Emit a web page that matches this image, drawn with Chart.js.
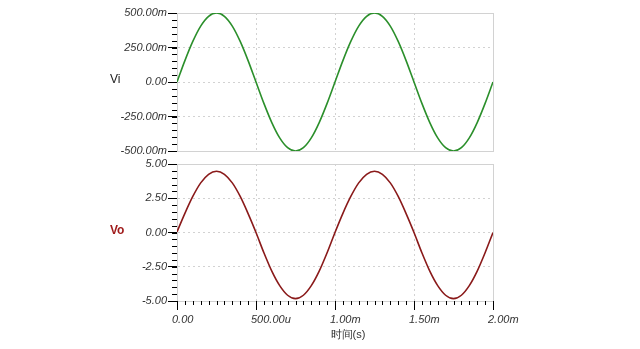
<!DOCTYPE html>
<html>
<head>
<meta charset="utf-8">
<script src="https://cdn.jsdelivr.net/npm/chart.js@4.4.1/dist/chart.umd.min.js"></script>
<style>
  html, body { margin: 0; padding: 0; background: #fff; }
  #wrap { position: relative; width: 640px; height: 349px; }
  canvas { position: absolute; left: 0; top: 0; }
</style>
</head>
<body>
<div id="wrap">
  <canvas id="grafVi" width="640" height="349"></canvas>
  <canvas id="grafVo" width="640" height="349"></canvas>
</div>
<script>
// tiempo en ms
const tiempo = [0, 0.05, 0.1, 0.15, 0.2, 0.25, 0.3, 0.35, 0.4, 0.45, 0.5,
  0.55, 0.6, 0.65, 0.7, 0.75, 0.8, 0.85, 0.9, 0.95, 1.0,
  1.05, 1.1, 1.15, 1.2, 1.25, 1.3, 1.35, 1.4, 1.45, 1.5,
  1.55, 1.6, 1.65, 1.7, 1.75, 1.8, 1.85, 1.9, 1.95, 2.0];

// Vi (V)
const vi = [0, 0.155, 0.294, 0.405, 0.476, 0.5, 0.476, 0.405, 0.294, 0.155, 0,
  -0.155, -0.294, -0.405, -0.476, -0.5, -0.476, -0.405, -0.294, -0.155, 0,
  0.155, 0.294, 0.405, 0.476, 0.5, 0.476, 0.405, 0.294, 0.155, 0,
  -0.155, -0.294, -0.405, -0.476, -0.5, -0.476, -0.405, -0.294, -0.155, 0];

// Vo (V)
const vo = [0.05, 1.4, 2.63, 3.62, 4.25, 4.47, 4.25, 3.62, 2.63, 1.38, 0,
  -1.48, -2.82, -3.88, -4.58, -4.83, -4.58, -3.88, -2.82, -1.48, 0,
  1.4, 2.63, 3.62, 4.25, 4.47, 4.25, 3.62, 2.63, 1.38, 0,
  -1.48, -2.82, -3.88, -4.58, -4.83, -4.58, -3.88, -2.82, -1.48, 0];

const viTicks = [-0.5, -0.25, 0, 0.25, 0.5];
const viLabels = ['-500.00m', '-250.00m', '0.00', '250.00m', '500.00m'];
const voTicks = [-5, -2.5, 0, 2.5, 5];
const voLabels = ['-5.00', '-2.50', '0.00', '2.50', '5.00'];
const xTicks = [0, 0.5, 1, 1.5, 2];
const xLabels = ['0.00', '500.00u', '1.00m', '1.50m', '2.00m'];

const fuente = "'Liberation Sans', Arial, sans-serif";
const gris = '#d2d2d2';

// marco gris, ticks menores y nombre de la serie
const extras = {
  id: 'extras',
  beforeDatasetsDraw(chart) {
    const a = chart.chartArea, c = chart.ctx;
    c.save();
    c.strokeStyle = gris;
    c.lineWidth = 1;
    c.strokeRect(Math.round(a.left) + 0.5, Math.round(a.top) + 0.5,
      Math.round(a.right - a.left), Math.round(a.bottom - a.top));
    c.restore();
  },
  afterDraw(chart, args, o) {
    const c = chart.ctx, a = chart.chartArea;
    c.save();
    c.strokeStyle = '#000';
    c.lineWidth = 1;
    c.beginPath();
    const y = chart.scales.y;
    for (let v = y.min; v <= y.max + 1e-9; v += o.yMinor) {
      const p = Math.round(y.getPixelForValue(v)) + 0.5;
      c.moveTo(a.left - 5, p);
      c.lineTo(a.left, p);
    }
    if (o.xMinor) {
      const x = chart.scales.x;
      for (let v = x.min; v <= x.max + 1e-9; v += o.xMinor) {
        const p = Math.round(x.getPixelForValue(v)) + 0.5;
        c.moveTo(p, a.bottom);
        c.lineTo(p, a.bottom + 4);
      }
    }
    c.stroke();
    c.textBaseline = 'middle';
    c.fillStyle = o.color;
    c.font = o.font;
    c.fillText(o.label, 110, (a.top + a.bottom) / 2 - 2);
    if (o.titulo) {
      c.fillStyle = '#333';
      c.textAlign = 'center';
      c.font = '11px ' + fuente;
      c.fillText(o.titulo, (a.left + a.right) / 2 + 13, 335);
    }
    c.restore();
  }
};

function ejeY(ticks, labels, min, max) {
  return {
    type: 'linear', min: min, max: max,
    afterBuildTicks: s => { s.ticks = ticks.map(v => ({ value: v })); },
    afterFit: s => { s.width = 177; },
    ticks: {
      callback: (v, i) => labels[i],
      font: { family: fuente, size: 11, style: 'italic' },
      color: '#333', padding: 1
    },
    grid: { color: gris, tickColor: '#000', tickLength: 9 },
    border: { color: '#000', width: 1, dash: [2, 3] }
  };
}

function ejeX(conTexto) {
  return {
    type: 'linear', min: 0, max: 2,
    afterBuildTicks: s => { s.ticks = xTicks.map(v => ({ value: v })); },
    afterFit: s => { s.height = conTexto ? 48 : 0; },
    ticks: {
      display: conTexto,
      callback: (v, i) => xLabels[i],
      font: { family: fuente, size: 11, style: 'italic' },
      color: '#333', padding: 3, align: 'start', labelOffset: -5,
      maxRotation: 0, autoSkip: false
    },
    grid: { color: gris, tickColor: '#000', tickLength: 9, drawTicks: conTexto },
    border: { color: conTexto ? '#000' : gris, width: 1, dash: [2, 3] }
  };
}

new Chart(document.getElementById('grafVi'), {
  type: 'line',
  data: {
    labels: tiempo,
    datasets: [{
      data: tiempo.map((t, i) => ({ x: t, y: vi[i] })),
      borderColor: '#2b8f2b', borderWidth: 1.6,
      pointRadius: 0, tension: 0.4, cubicInterpolationMode: 'monotone'
    }]
  },
  options: {
    responsive: false, animation: false,
    layout: { padding: { top: 13, right: 147, bottom: 198, left: 0 } },
    plugins: {
      legend: { display: false }, tooltip: { enabled: false },
      extras: { yMinor: 0.05, label: 'Vi', color: '#222', font: '12px ' + fuente }
    },
    scales: { x: ejeX(false), y: ejeY(viTicks, viLabels, -0.5, 0.5) }
  },
  plugins: [extras]
});

new Chart(document.getElementById('grafVo'), {
  type: 'line',
  data: {
    labels: tiempo,
    datasets: [{
      data: tiempo.map((t, i) => ({ x: t, y: vo[i] })),
      borderColor: '#8a1a1a', borderWidth: 1.6,
      pointRadius: 0, tension: 0.4, cubicInterpolationMode: 'monotone'
    }]
  },
  options: {
    responsive: false, animation: false,
    layout: { padding: { top: 164, right: 147, bottom: 0, left: 0 } },
    plugins: {
      legend: { display: false }, tooltip: { enabled: false },
      extras: { yMinor: 0.5, xMinor: 0.05, label: 'Vo', color: '#a01c1c',
        font: 'bold 12px ' + fuente, titulo: '时间(s)' }
    },
    scales: { x: ejeX(true), y: ejeY(voTicks, voLabels, -5, 5) }
  },
  plugins: [extras]
});
</script>
</body>
</html>
